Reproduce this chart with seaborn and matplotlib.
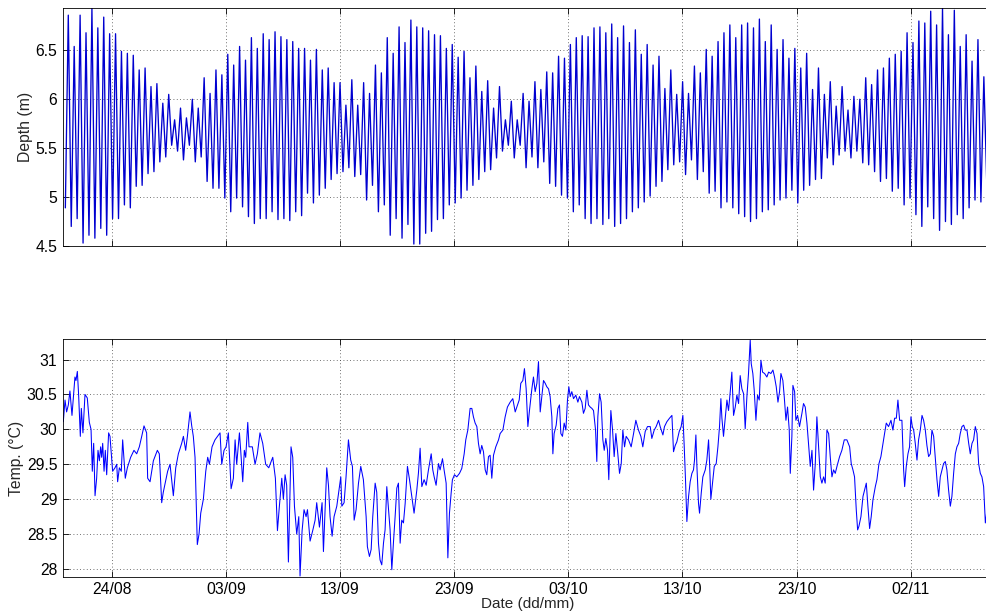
import numpy as np
import pandas as pd
import matplotlib
matplotlib.use("Agg")
import matplotlib.pyplot as plt
import seaborn as sns

# ---------------- data ----------------
# Depth: successive tidal lows / highs (m)
depth_lows = [
    4.89, 4.70, 4.78, 4.53, 4.61, 4.58, 4.68, 4.61, 4.78, 4.78, 4.92, 4.89, 5.11, 5.12, 5.24, 5.26,
    5.36, 5.41, 5.53, 5.47, 5.38, 5.53, 5.36, 5.41, 5.16, 5.09,
    5.09, 4.99, 4.85, 4.99, 4.90, 4.80, 4.73, 4.78, 4.78, 4.85, 4.77, 4.78, 4.76, 4.85, 4.81, 5.04,
    4.94, 5.02, 5.09, 5.18, 5.24, 5.26, 5.30, 5.21, 5.23, 4.97, 5.12,
    4.85, 4.92, 4.61, 4.78, 4.58, 4.72, 4.52, 4.52, 4.63, 4.65, 4.77, 4.78, 4.92, 4.94, 4.99, 5.07,
    5.12, 5.18, 5.26, 5.28, 5.40, 5.47, 5.53, 5.40, 5.53, 5.30,
    5.41, 5.30, 5.36, 5.14, 5.11, 5.02, 4.99, 4.85, 4.92, 4.78, 4.73, 4.78, 4.72, 4.78, 4.70, 4.73,
    4.78, 4.85, 4.89, 4.95, 5.01, 5.11, 5.16, 5.28, 5.33, 5.36,
    5.23, 5.38, 5.18, 5.26, 5.04, 5.06, 4.89, 4.95, 4.89, 4.83, 4.80, 4.75, 4.78, 4.85, 4.87, 4.92,
    4.97, 4.99, 5.07, 4.94, 5.07, 5.12, 5.18, 5.19, 5.40, 5.33,
    5.43, 5.47, 5.40, 5.47, 5.35, 5.33, 5.26, 5.16, 5.19, 5.06, 5.09, 4.92, 4.99, 4.82, 4.70, 4.90,
    4.78, 4.66, 4.75, 4.72, 4.82, 4.78, 4.89, 4.97, 4.95, 5.12,
]
depth_highs = [
    6.86, 6.54, 6.86, 6.68, 6.93, 6.73, 6.84, 6.67, 6.67, 6.49, 6.47, 6.45, 6.30, 6.32, 6.13, 6.16,
    5.96, 6.05, 5.79, 5.91, 5.81, 6.00, 5.91, 6.22, 6.06,
    6.30, 6.25, 6.46, 6.35, 6.54, 6.40, 6.63, 6.52, 6.67, 6.61, 6.69, 6.64, 6.61, 6.59, 6.52, 6.52,
    6.40, 6.51, 6.30, 6.32, 6.17, 6.17, 5.94, 6.20, 5.94, 6.17, 6.06,
    6.35, 6.27, 6.63, 6.47, 6.74, 6.58, 6.81, 6.74, 6.73, 6.70, 6.66, 6.65, 6.52, 6.56, 6.43, 6.49,
    6.22, 6.34, 6.08, 6.19, 5.91, 6.13, 5.79, 5.98, 5.79, 6.06,
    5.98, 6.18, 6.10, 6.28, 6.27, 6.44, 6.42, 6.56, 6.63, 6.65, 6.64, 6.73, 6.74, 6.68, 6.77, 6.63,
    6.75, 6.58, 6.71, 6.46, 6.56, 6.35, 6.44, 6.11, 6.30, 6.05, 6.18,
    6.06, 6.34, 6.27, 6.51, 6.44, 6.59, 6.68, 6.76, 6.63, 6.76, 6.78, 6.73, 6.82, 6.59, 6.76, 6.51,
    6.61, 6.42, 6.52, 6.32, 6.47, 6.10, 6.32, 6.05, 6.18, 5.93,
    6.13, 5.89, 6.03, 6.00, 6.22, 6.15, 6.30, 6.32, 6.42, 6.46, 6.49, 6.68, 6.58, 6.80, 6.78, 6.90,
    6.76, 6.93, 6.66, 6.91, 6.54, 6.66, 6.39, 6.61, 6.23, 6.32,
]
first_low_day = -4.062      # days relative to 24/08
half_tide_days = 0.25875    # time between a low and the next high

# Temperature (days relative to 24/08, degC)
temp_days = [
    -4.24, -4.09, -3.95, -3.80, -3.66, -3.48, -3.36, -3.22, -3.13, -3.01, -2.90, -2.75, -2.66, -2.52,
    -2.34, -2.14, -1.96, -1.81, -1.70, -1.58, -1.46, -1.32, -1.20, -1.08, -0.97, -0.88, -0.79, -0.67,
    -0.56, -0.44, -0.27, -0.15, 0.08, 0.29, 0.44, 0.52, 0.67, 0.84, 0.96, 1.19, 1.37, 1.66, 1.95,
    2.19, 2.42, 2.63, 2.83, 3.06, 3.15, 3.36, 3.65, 4.00, 4.17, 4.38, 4.52, 4.90, 5.11, 5.40, 5.61,
    5.84, 6.13, 6.28, 6.48, 6.63, 6.86, 7.01, 7.15, 7.30, 7.50, 7.65, 7.80, 8.03, 8.24, 8.41, 8.56,
    8.79, 9.05, 9.49, 9.64, 9.84, 10.02, 10.22, 10.46, 10.66, 10.81, 10.95, 11.19, 11.30, 11.48,
    11.62, 11.74, 11.92, 12.03, 12.32, 12.56, 12.76, 12.99, 13.23, 13.49, 13.76, 14.11, 14.34,
    14.52, 14.69, 14.90, 15.04, 15.19, 15.33, 15.48, 15.71, 15.86, 16.01, 16.21, 16.39, 16.50,
    16.68, 16.85, 17.03, 17.15, 17.38, 17.61, 17.82, 17.96, 18.20, 18.43, 18.55, 18.84, 18.99,
    19.13, 19.31, 19.48, 19.72, 19.95, 20.07, 20.16, 20.36, 20.53, 20.74, 20.94, 21.09, 21.24,
    21.41, 21.62, 21.82, 22.05, 22.29, 22.40, 22.58, 22.73, 22.87, 23.08, 23.22, 23.37, 23.51,
    23.66, 23.81, 23.95, 24.10, 24.25, 24.39, 24.54, 24.68, 24.83, 24.98, 25.12, 25.27, 25.41,
    25.56, 25.71, 25.91, 26.09, 26.29, 26.49, 26.73, 26.87, 27.02, 27.17, 27.37, 27.55, 27.75,
    27.99, 28.13, 28.25, 28.42, 28.63, 28.77, 28.98, 29.12, 29.30, 29.45, 29.59, 29.74, 29.85,
    30.03, 30.23, 30.47, 30.67, 30.88, 31.02, 31.20, 31.40, 31.55, 31.69, 31.84, 31.99, 32.13,
    32.28, 32.42, 32.57, 32.72, 32.86, 33.01, 33.15, 33.30, 33.45, 33.65, 33.89, 34.03, 34.27,
    34.47, 34.67, 34.91, 35.14, 35.35, 35.49, 35.70, 35.84, 36.02, 36.16, 36.31, 36.46, 36.60,
    36.81, 36.95, 37.10, 37.25, 37.39, 37.54, 37.68, 37.83, 37.98, 38.12, 38.27, 38.41, 38.56,
    38.65, 38.76, 38.94, 39.09, 39.23, 39.35, 39.49, 39.64, 39.79, 39.93, 40.05, 40.17, 40.31,
    40.46, 40.66, 40.84, 40.98, 41.19, 41.33, 41.48, 41.63, 41.77, 41.92, 42.07, 42.21, 42.39,
    42.50, 42.59, 42.74, 42.88, 43.03, 43.15, 43.29, 43.44, 43.55, 43.73, 43.88, 44.02, 44.17,
    44.34, 44.49, 44.64, 44.78, 44.93, 45.07, 45.28, 45.51, 45.72, 45.92, 46.15, 46.36, 46.53,
    46.74, 46.94, 47.18, 47.32, 47.53, 47.70, 47.91, 48.05, 48.29, 48.43, 48.64, 48.87, 49.08,
    49.22, 49.37, 49.51, 49.72, 49.89, 50.04, 50.16, 50.27, 50.39, 50.54, 50.68, 50.83, 50.97,
    51.06, 51.18, 51.27, 51.41, 51.50, 51.65, 51.79, 52.00, 52.14, 52.29, 52.38, 52.49, 52.67,
    52.79, 52.96, 53.11, 53.25, 53.37, 53.46, 53.60, 53.75, 53.90, 54.04, 54.19, 54.33, 54.48,
    54.63, 54.77, 54.92, 55.06, 55.21, 55.36, 55.50, 55.65, 55.79, 55.94, 56.03, 56.17, 56.29,
    56.44, 56.58, 56.73, 56.88, 57.02, 57.20, 57.40, 57.55, 57.75, 57.93, 58.07, 58.22, 58.37,
    58.51, 58.63, 58.80, 58.92, 59.07, 59.21, 59.36, 59.45, 59.59, 59.68, 59.83, 59.94, 60.09,
    60.26, 60.47, 60.61, 60.76, 60.91, 61.05, 61.20, 61.35, 61.49, 61.64, 61.78, 61.93, 62.08,
    62.22, 62.37, 62.51, 62.66, 62.81, 62.95, 63.10, 63.24, 63.39, 63.54, 63.77, 63.97, 64.18,
    64.41, 64.65, 64.79, 64.94, 65.08, 65.23, 65.35, 65.46, 65.64, 65.82, 65.96, 66.11, 66.25,
    66.40, 66.54, 66.69, 66.90, 67.04, 67.22, 67.39, 67.57, 67.71, 67.86, 68.06, 68.27, 68.44,
    68.59, 68.74, 68.88, 69.03, 69.23, 69.38, 69.47, 69.61, 69.76, 69.90, 70.02, 70.14, 70.26,
    70.40, 70.55, 70.69, 70.84, 70.99, 71.13, 71.28, 71.42, 71.57, 71.72, 71.86, 72.01, 72.15,
    72.30, 72.45, 72.59, 72.74, 72.88, 73.03, 73.17, 73.32, 73.47, 73.61, 73.76, 73.91, 74.05,
    74.20, 74.34, 74.49, 74.64, 74.78, 74.93, 75.08, 75.22, 75.37, 75.51, 75.66, 75.81, 75.95,
    76.10, 76.24, 76.39, 76.54, 76.62, 76.71,
]
temp_values = [
    30.11, 30.42, 30.25, 30.35, 30.55, 30.20, 30.45, 30.75, 30.70, 30.83, 30.50, 29.90, 30.30, 29.95,
    30.50, 30.45, 30.10, 30.00, 29.40, 29.80, 29.05, 29.30, 29.70, 29.55, 29.75, 29.60, 29.80, 29.40,
    29.70, 29.35, 29.95, 29.90, 29.40, 29.45, 29.50, 29.25, 29.45, 29.40, 29.85, 29.30, 29.45, 29.60,
    29.70, 29.65, 29.75, 29.90, 30.05, 29.95, 29.30, 29.25, 29.55, 29.70, 29.65, 28.95, 29.10, 29.40,
    29.50, 29.05, 29.45, 29.65, 29.80, 29.90, 29.70, 29.90, 30.25, 30.05, 29.90, 29.60, 28.35, 28.50,
    28.80, 29.00, 29.40, 29.60, 29.50, 29.75, 29.85, 29.95, 29.50, 29.70, 29.75, 29.95, 29.15, 29.30,
    29.85, 29.50, 29.95, 29.70, 29.25, 29.70, 29.60, 30.10, 29.75, 29.75, 29.50, 29.65, 29.95, 29.80,
    29.50, 29.45, 29.60, 29.30, 28.55, 28.90, 29.30, 29.00, 29.35, 29.20, 28.10, 29.75, 29.60, 28.90,
    28.50, 28.75, 27.90, 28.55, 28.85, 28.75, 28.85, 28.40, 28.55, 28.70, 28.95, 28.60, 28.95, 28.25,
    29.45, 29.20, 28.75, 28.47, 28.75, 28.90, 29.18, 29.32, 28.90, 28.95, 29.32, 29.85, 29.56, 29.47,
    28.70, 28.85, 29.23, 29.47, 29.28, 28.75, 28.32, 28.18, 28.28, 28.75, 29.23, 29.10, 28.37, 28.13,
    28.06, 28.37, 28.56, 29.18, 28.85, 28.56, 27.99, 28.37, 28.75, 29.16, 29.23, 28.37, 28.70, 28.66,
    28.94, 29.47, 29.28, 29.04, 28.80, 29.13, 29.37, 29.73, 29.18, 29.28, 29.20, 29.42, 29.65, 29.42,
    29.32, 29.20, 29.51, 29.42, 29.58, 29.42, 29.23, 28.16, 28.80, 29.09, 29.28, 29.35, 29.32, 29.37,
    29.44, 29.65, 29.85, 29.99, 30.30, 30.30, 30.18, 30.09, 30.04, 29.80, 29.65, 29.77, 29.68, 29.42,
    29.35, 29.61, 29.63, 29.30, 29.63, 29.75, 29.85, 29.94, 29.99, 30.18, 30.32, 30.39, 30.44, 30.25,
    30.32, 30.42, 30.66, 30.70, 30.87, 30.58, 30.04, 30.27, 30.58, 30.75, 30.54, 30.66, 30.97, 30.25,
    30.47, 30.70, 30.66, 30.61, 30.58, 30.47, 30.18, 29.65, 29.94, 30.06, 30.30, 30.35, 29.94, 29.90,
    30.09, 29.99, 30.42, 30.61, 30.47, 30.54, 30.44, 30.49, 30.39, 30.47, 30.39, 30.23, 30.30, 30.56,
    30.35, 30.32, 30.30, 30.27, 29.99, 29.54, 30.18, 30.51, 30.39, 29.85, 29.70, 29.87, 29.70, 29.28,
    30.27, 29.99, 29.61, 29.94, 29.65, 29.37, 29.51, 29.99, 29.75, 29.90, 29.85, 29.75, 29.94, 30.13,
    29.99, 29.90, 29.75, 29.97, 30.04, 30.04, 29.87, 29.99, 30.04, 30.13, 30.04, 29.92, 30.04, 30.11,
    30.16, 30.20, 29.68, 29.77, 29.82, 29.97, 30.04, 30.20, 29.75, 29.28, 28.68, 29.04, 29.25, 29.37,
    29.42, 29.56, 29.92, 29.47, 28.94, 28.80, 29.09, 29.32, 29.42, 29.56, 29.85, 29.51, 29.00, 29.28,
    29.47, 29.51, 29.75, 30.04, 30.44, 30.16, 29.90, 30.16, 30.42, 30.27, 30.54, 30.82, 30.20, 30.32,
    30.49, 30.37, 30.77, 30.58, 30.51, 30.01, 30.47, 30.80, 31.28, 30.94, 30.80, 30.56, 30.13, 30.49,
    30.42, 30.99, 30.82, 30.80, 30.75, 30.82, 30.80, 30.85, 30.75, 30.61, 30.39, 30.54, 30.80, 30.70,
    30.47, 30.13, 30.32, 29.99, 29.37, 29.90, 30.63, 30.54, 30.13, 30.20, 30.04, 30.23, 30.37, 30.32,
    30.09, 29.80, 29.47, 29.70, 29.13, 29.51, 30.18, 29.75, 29.32, 29.23, 29.32, 29.23, 29.99, 29.94,
    29.61, 29.32, 29.42, 29.37, 29.47, 29.61, 29.70, 29.85, 29.85, 29.75, 29.51, 29.42, 29.32, 28.85,
    28.56, 28.61, 28.75, 29.04, 29.13, 29.23, 28.90, 28.58, 28.75, 28.99, 29.18, 29.28, 29.51, 29.61,
    29.80, 29.94, 30.09, 30.04, 30.13, 29.99, 30.16, 30.16, 30.42, 30.13, 30.13, 29.42, 29.18, 29.47,
    29.65, 29.75, 30.18, 30.04, 29.99, 29.80, 29.56, 29.85, 29.99, 30.20, 30.13, 29.99, 29.77, 29.61,
    29.65, 29.99, 29.90, 29.61, 29.28, 29.04, 29.32, 29.42, 29.51, 29.54, 29.42, 29.13, 28.90, 29.04,
    29.37, 29.65, 29.75, 29.80, 29.94, 30.04, 30.06, 29.99, 29.99, 29.80, 29.65, 29.80, 29.85, 30.04,
    29.94, 29.51, 29.37, 29.32, 29.18, 28.66, 28.75, 28.94,
]

tick_days = [0, 10, 20, 30, 40, 50, 60, 70]
tick_labels = ["24/08", "03/09", "13/09", "23/09", "03/10", "13/10", "23/10", "02/11"]
depth_ticks = [4.5, 5, 5.5, 6, 6.5]
depth_tick_labels = ["4.5", "5", "5.5", "6", "6.5"]
temp_ticks = [28, 28.5, 29, 29.5, 30, 30.5, 31]
temp_tick_labels = ["28", "28.5", "29", "29.5", "30", "30.5", "31"]

# ---------------- build tables ----------------
n = len(depth_lows)
depth_vals = np.empty(2 * n)
depth_vals[0::2] = depth_lows
depth_vals[1::2] = depth_highs
depth_time = first_low_day + half_tide_days * np.arange(2 * n)
depth_df = pd.DataFrame({"day": depth_time, "depth": depth_vals})
temp_df = pd.DataFrame({"day": temp_days, "temp": temp_values})

# ---------------- style ----------------
sns.set_style("ticks")
plt.rcParams["font.family"] = ["Liberation Sans", "DejaVu Sans"]
plt.rcParams["xtick.direction"] = "in"
plt.rcParams["ytick.direction"] = "in"

W, H = 987, 615
fig = plt.figure(figsize=(W / 100, H / 100), dpi=100)
left = 63 / W
width = 930 / W
ax1 = fig.add_axes([left, 1 - 246 / H, width, (246 - 8.3) / H])
ax2 = fig.add_axes([left, 1 - 576.7 / H, width, (576.7 - 339.3) / H])

sns.lineplot(data=depth_df, x="day", y="depth", ax=ax1, color="#0000d0",
             linewidth=0.95, estimator=None, sort=False)
sns.lineplot(data=temp_df, x="day", y="temp", ax=ax2, color="#0000ff",
             linewidth=0.75, estimator=None, sort=False)

FS = 11.3
xlim = (-4.267, 77.21)
for ax in (ax1, ax2):
    ax.set_xlim(*xlim)
    ax.set_xticks(tick_days)
    ax.grid(True, linestyle=(0, (1, 3)), color="#444444", linewidth=0.6)
    ax.tick_params(top=True, right=False, direction="in", length=4, width=0.6,
                   labelsize=FS, colors="black", pad=4)
    for s in ax.spines.values():
        s.set_visible(True)
        s.set_linewidth(0.6)
        s.set_color("black")
    ax.spines["right"].set_visible(False)
    ax.set_facecolor("white")

ax1.set_ylim(4.5, 6.93)
ax1.set_yticks(depth_ticks)
ax1.set_yticklabels(depth_tick_labels)
ax1.set_xticklabels([])
ax1.set_xlabel("")
ax1.set_ylabel("Depth (m)", fontsize=FS, labelpad=2)

ax2.set_ylim(27.89, 31.29)
ax2.set_yticks(temp_ticks)
ax2.set_yticklabels(temp_tick_labels)
ax2.set_xticklabels(tick_labels)
ax2.set_xlabel("Date (dd/mm)", fontsize=11, labelpad=0)
ax2.set_ylabel("Temp. (°C)", fontsize=FS, labelpad=2)

fig.savefig("out.png", dpi=100, facecolor="white")
